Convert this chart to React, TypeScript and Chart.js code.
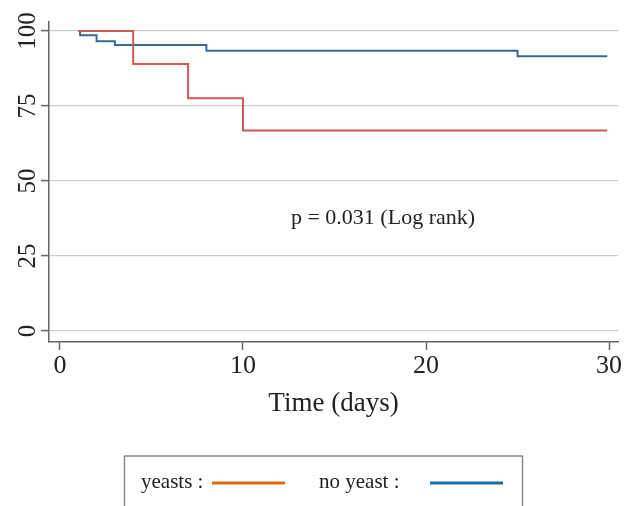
import React, { useEffect, useRef } from "react";
import { Chart, registerables } from "chart.js";

Chart.register(...registerables);

const yeastTimes = [1, 4, 7, 10, 29.9];
const yeastSurvival = [100, 89, 77.6, 66.8, 66.8];
const noYeastTimes = [1, 1.1, 2, 3, 8, 25, 29.9];
const noYeastSurvival = [100, 98.6, 96.6, 95.3, 93.4, 91.6, 91.6];
const xTickValues = [0, 10, 20, 30];
const yTickValues = [0, 25, 50, 75, 100];
const legendLabels = ["yeasts :", "no yeast :"];
const legendColors = ["#dd6c14", "#1c6aa6"];
const lineColors = ["#cc5a57", "#336c9b"];
const pText = "p = 0.031 (Log rank)";
const pPosition = { x: 17.65, y: 37.7 };
const xTitle = "Time (days)";

const FONT = "'Liberation Serif', 'Times New Roman', serif";

const extrasPlugin = {
  id: "extras",
  afterDraw(chart: any) {
    const ctx = chart.ctx;
    const xs = chart.scales.x;
    const ys = chart.scales.y;
    ctx.save();
    ctx.fillStyle = "#222";
    ctx.font = `22px ${FONT}`;
    ctx.textAlign = "center";
    ctx.textBaseline = "middle";
    ctx.fillText(pText, xs.getPixelForValue(pPosition.x), ys.getPixelForValue(pPosition.y));
    ctx.strokeStyle = "#8a8a8a";
    ctx.lineWidth = 1.5;
    ctx.strokeRect(124.5, 456, 398, 70);
    ctx.font = `21px ${FONT}`;
    ctx.textAlign = "left";
    ctx.fillStyle = "#222";
    const textX = [141, 319];
    const lineX = [[212, 285], [430, 503]];
    for (let i = 0; i < legendLabels.length; i++) {
      ctx.fillText(legendLabels[i], textX[i], 482);
      ctx.strokeStyle = legendColors[i];
      ctx.lineWidth = 3;
      ctx.beginPath();
      ctx.moveTo(lineX[i][0], 483);
      ctx.lineTo(lineX[i][1], 483);
      ctx.stroke();
    }
    ctx.restore();
  },
};

export default function App() {
  const ref = useRef<HTMLCanvasElement>(null);
  useEffect(() => {
    document.body.style.margin = "0";
    const canvas = ref.current!;
    const chart = new Chart(canvas, {
      type: "line",
      data: {
        datasets: [
          {
            label: "yeasts",
            data: yeastTimes.map((t, i) => ({ x: t, y: yeastSurvival[i] })),
            borderColor: lineColors[0],
            borderWidth: 2,
            stepped: true,
            pointRadius: 0,
            fill: false,
          },
          {
            label: "no yeast",
            data: noYeastTimes.map((t, i) => ({ x: t, y: noYeastSurvival[i] })),
            borderColor: lineColors[1],
            borderWidth: 2,
            stepped: true,
            pointRadius: 0,
            fill: false,
          },
        ],
      },
      options: {
        animation: false,
        responsive: false,
        maintainAspectRatio: false,
        layout: { padding: { top: 22, right: 9, bottom: 86, left: 0 } },
        plugins: { legend: { display: false }, tooltip: { enabled: false } },
        scales: {
          x: {
            type: "linear",
            min: -0.6,
            max: 30.49,
            afterBuildTicks: (s: any) => {
              s.ticks = xTickValues.map((v) => ({ value: v }));
            },
            afterFit: (s: any) => {
              s.height = 78;
            },
            grid: {
              drawOnChartArea: false,
              drawTicks: true,
              tickLength: 8,
              tickColor: "#666",
              tickWidth: 1.5,
            },
            border: { display: true, color: "#666", width: 1.5 },
            ticks: {
              padding: 1,
              color: "#222",
              font: { family: FONT, size: 26 },
              maxRotation: 0,
              minRotation: 0,
              callback: (v: any) => String(v),
            },
            title: {
              display: true,
              text: xTitle,
              color: "#222",
              font: { family: FONT, size: 27 },
              padding: { top: 0, bottom: 0 },
            },
          },
          y: {
            type: "linear",
            min: -3.67,
            max: 103,
            afterBuildTicks: (s: any) => {
              s.ticks = yTickValues.map((v) => ({ value: v }));
            },
            afterFit: (s: any) => {
              s.width = 49;
            },
            grid: {
              color: "#9a9a9a",
              lineWidth: 1.2,
              drawTicks: true,
              tickLength: 8,
              tickColor: "#666",
              tickWidth: 1.5,
              tickBorderDash: [],
            },
            border: { display: true, color: "#666", width: 1.5, dash: [1, 1] },
            ticks: {
              padding: -6,
              color: "#222",
              font: { family: FONT, size: 25 },
              minRotation: 90,
              maxRotation: 90,
              crossAlign: "center",
              callback: (v: any) => String(v),
            },
          },
        },
      },
      plugins: [extrasPlugin],
    } as any);
    return () => chart.destroy();
  }, []);
  return <canvas ref={ref} width={627} height={506} style={{ display: "block", width: 627, height: 506 }} />;
}
